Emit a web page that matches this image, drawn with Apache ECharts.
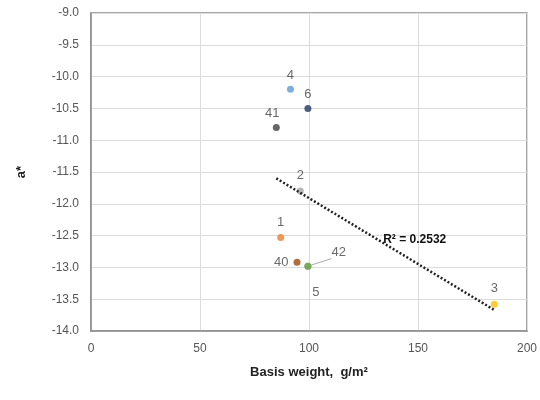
<!DOCTYPE html>
<html>
<head>
<meta charset="utf-8">
<script src="https://cdn.jsdelivr.net/npm/echarts@6/dist/echarts.min.js"></script>
<style>
  html, body { margin: 0; padding: 0; background: #fff; }
  #chart { width: 540px; height: 400px; }
</style>
</head>
<body>
<div id="chart"></div>
<script>
// sample points
const sampleNames = ['4', '6', '41', '2', '1', '40', '5', '42', '3'];
const basisWeight = [91.5, 99.5, 85, 96, 87, 94.5, 99.5, 99.5, 185];
const aStar = [-10.2, -10.5, -10.8, -11.8, -12.53, -12.92, -12.98, -12.98, -13.58];

// linear trend line endpoints
const trendX = [85, 185];
const trendY = [-11.6, -13.67];

const xTicks = [0, 50, 100, 150, 200];
const r2Text = 'R² = 0.2532';
const r2At = [148.5, -12.57];

// styles per point
const pointColors = {
  '4': '#5b9bd5', '6': '#203864', '41': '#404040', '2': '#a5a5a5',
  '1': '#ed7d31', '40': '#9e480e', '5': '#7f7f7f', '42': '#70ad47', '3': '#ffc000'
};
const labelPos = {
  '4': { position: 'top', distance: 4 },
  '6': { position: 'top', distance: 4 },
  '41': { position: 'top', distance: 4, offset: [-4, 0] },
  '2': { position: 'top', distance: 6 },
  '1': { position: 'top', distance: 5 },
  '40': { position: 'left', distance: 5 },
  '5': { position: 'bottom', distance: 16, offset: [8, 0] },
  '42': { position: 'right', distance: 14, offset: [6, -14] },
  '3': { position: 'top', distance: 6 }
};

const chart = echarts.init(document.getElementById('chart'));

const points = sampleNames.map((n, i) => ({
  name: n,
  value: [basisWeight[i], aStar[i]],
  itemStyle: { color: pointColors[n] },
  label: Object.assign({ show: true, formatter: n }, labelPos[n]),
  labelLine: { show: n === '42', lineStyle: { color: '#aaa', width: 1 } }
}));

const option = {
  animation: false,
  backgroundColor: '#fff',
  grid: {
    left: 91, right: 13, top: 13, bottom: 69,
    show: true, borderColor: '#8c8c8c', borderWidth: 1.5
  },
  xAxis: {
    type: 'value', min: 0, max: 200, interval: 50,
    name: 'Basis weight,  g/m²', nameLocation: 'middle', nameGap: 35,
    nameTextStyle: { fontFamily: 'Liberation Sans', fontWeight: 'bold', fontSize: 13, color: '#222' },
    axisLine: { show: true, lineStyle: { color: '#8c8c8c', width: 1.5 } },
    axisTick: { show: false },
    axisLabel: { color: '#555', fontFamily: 'Liberation Sans', fontSize: 12, margin: 12,
      formatter: v => xTicks.includes(v) ? String(v) : '' },
    splitLine: { show: true, lineStyle: { color: '#dcdcdc', width: 1 } }
  },
  yAxis: {
    type: 'value', min: -14, max: -9, interval: 0.5,
    name: 'a*', nameLocation: 'middle', nameGap: 63, nameRotate: 90,
    nameTextStyle: { fontFamily: 'Liberation Sans', fontWeight: 'bold', fontSize: 13, color: '#222' },
    axisLine: { show: true, lineStyle: { color: '#8c8c8c', width: 1.5 } },
    axisTick: { show: false },
    axisLabel: { color: '#555', fontFamily: 'Liberation Sans', fontSize: 12, margin: 12,
      formatter: v => v.toFixed(1) },
    splitLine: { show: true, lineStyle: { color: '#dcdcdc', width: 1 } }
  },
  series: [
    {
      type: 'line',
      data: trendX.map((x, i) => [x, trendY[i]]),
      symbol: 'none',
      lineStyle: { color: '#222', width: 2.5, type: [2, 2] },
      z: 3,
      markPoint: {
        symbol: 'rect', symbolSize: 0,
        data: [{ coord: r2At }],
        label: { show: true, formatter: r2Text, color: '#111', fontWeight: 'bold',
          fontFamily: 'Liberation Sans', fontSize: 12 }
      }
    },
    {
      type: 'scatter',
      data: points,
      symbolSize: 7,
      z: 2,
      label: { color: '#444', fontFamily: 'Liberation Sans', fontSize: 13 }
    }
  ]
};

chart.setOption(option);
</script>
</body>
</html>
